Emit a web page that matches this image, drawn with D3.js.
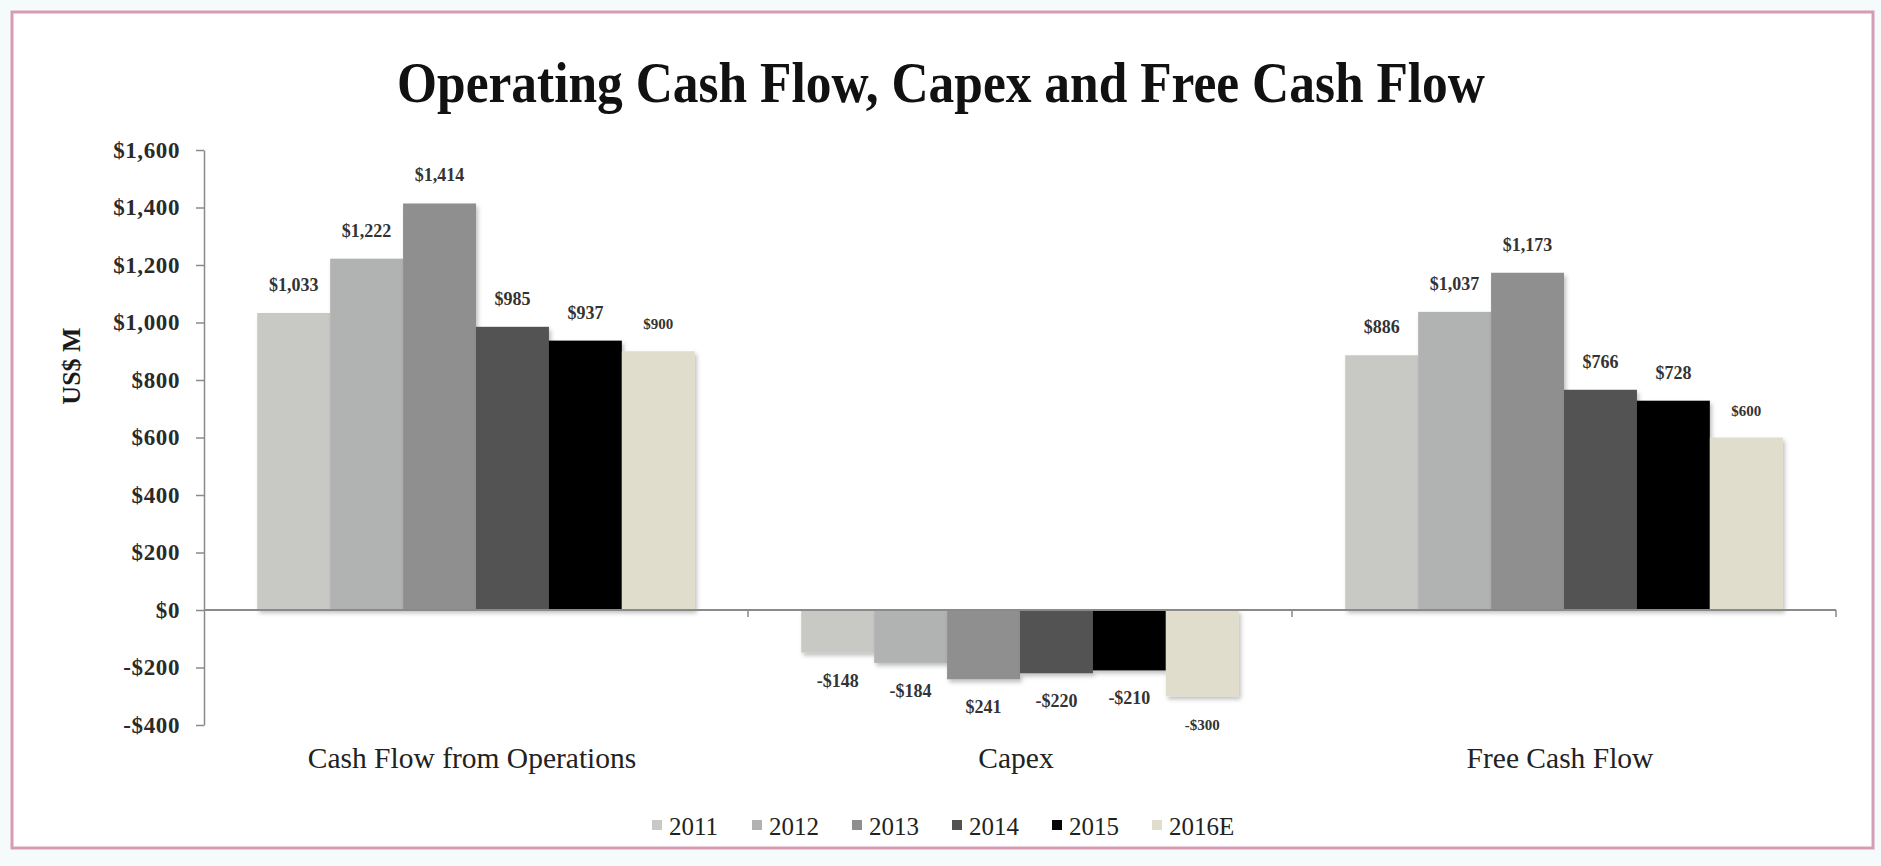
<!DOCTYPE html>
<html>
<head>
<meta charset="utf-8">
<script src="https://cdn.jsdelivr.net/npm/d3@7"></script>
<style>
  html, body { margin: 0; padding: 0; background: #f5fbfb; }
  svg { display: block; }
  text { font-family: "Liberation Serif", "Times New Roman", serif; }
</style>
</head>
<body>
<svg id="chart" width="1881" height="866"></svg>
<script>
// Categories, series and axis ticks
const categories = ["Cash Flow from Operations", "Capex", "Free Cash Flow"];
const years = ["2011", "2012", "2013", "2014", "2015", "2016E"];
const cashFlowOps = [1033, 1222, 1414, 985, 937, 900];
const capex = [-148, -184, -241, -220, -210, -300];
const freeCashFlow = [886, 1037, 1173, 766, 728, 600];
const capexLabels = ["-$148", "-$184", "$241", "-$220", "-$210", "-$300"];
const yTicks = [-400, -200, 0, 200, 400, 600, 800, 1000, 1200, 1400, 1600];
const yearColors = ["#c8c8c4", "#b1b3b2", "#8f8f8f", "#525252", "#060606", "#e0ddcc"];

const seriesByCategory = [cashFlowOps, capex, freeCashFlow];

const svg = d3.select("#chart");

// Shadow under the bars
const defs = svg.append("defs");
const f = defs.append("filter").attr("id", "barShadow")
  .attr("x", "-10%").attr("y", "-10%").attr("width", "130%").attr("height", "130%");
f.append("feDropShadow").attr("dx", 2).attr("dy", 3).attr("stdDeviation", 2)
  .attr("flood-color", "#000").attr("flood-opacity", 0.25);

// Framed panel
svg.append("rect")
  .attr("x", 12).attr("y", 12).attr("width", 1861).attr("height", 836)
  .attr("fill", "#ffffff").attr("stroke", "#d79bb6").attr("stroke-width", 3);

// Title
svg.append("text")
  .attr("x", 941).attr("y", 102)
  .attr("text-anchor", "middle")
  .attr("font-size", 57).attr("font-weight", "bold").attr("fill", "#111")
  .attr("textLength", 1088).attr("lengthAdjust", "spacingAndGlyphs")
  .text("Operating Cash Flow, Capex and Free Cash Flow");

// Scales
const plotLeft = 204, plotRight = 1836;
const y = d3.scaleLinear().domain([-400, 1600]).range([725, 150]);
const x0 = d3.scaleBand().domain(categories).range([plotLeft, plotRight]).padding(0);
const x1 = d3.scaleBand().domain(years).range([0, x0.bandwidth()])
  .paddingInner(0).paddingOuter(0.73);
const color = d3.scaleOrdinal().domain(years).range(yearColors);

// Y axis
const yAxis = d3.axisLeft(y)
  .tickValues(yTicks)
  .tickSize(8).tickSizeOuter(0).tickPadding(16)
  .tickFormat(d => (d < 0 ? "-$" : "$") + d3.format(",")(Math.abs(d)));
const gy = svg.append("g").attr("transform", `translate(${plotLeft},0)`).call(yAxis);
gy.select(".domain").attr("stroke", "#8a8a8a").attr("stroke-width", 1.5);
gy.selectAll(".tick line").attr("stroke", "#8a8a8a").attr("stroke-width", 1.5);
gy.selectAll(".tick text")
  .attr("font-family", "Liberation Serif, serif")
  .attr("font-size", 23).attr("font-weight", "bold").attr("fill", "#2a2a2a")
  .attr("letter-spacing", 0.6);

// Y axis title
svg.append("text")
  .attr("transform", `translate(80,366) rotate(-90)`)
  .attr("text-anchor", "middle")
  .attr("font-size", 26).attr("font-weight", "bold").attr("fill", "#1a1a1a")
  .text("US$ M");

// Bars
const groups = svg.append("g").selectAll("g")
  .data(categories.map((c, i) => ({ cat: c, values: seriesByCategory[i], idx: i })))
  .join("g")
  .attr("transform", d => `translate(${x0(d.cat)},0)`);

groups.selectAll("rect")
  .data(d => d.values.map((v, j) => ({ year: years[j], v })))
  .join("rect")
  .attr("x", d => x1(d.year))
  .attr("width", x1.bandwidth())
  .attr("y", d => y(Math.max(0, d.v)))
  .attr("height", d => Math.abs(y(d.v) - y(0)))
  .attr("fill", d => color(d.year))
  .attr("filter", "url(#barShadow)");

// Value labels
const fmtPos = d3.format(",");
groups.selectAll("text.val")
  .data(d => d.values.map((v, j) => ({
    year: years[j], v,
    label: d.idx === 1 ? capexLabels[j] : "$" + fmtPos(v)
  })))
  .join("text")
  .attr("class", "val")
  .attr("x", d => x1(d.year) + x1.bandwidth() / 2)
  .attr("y", d => d.v >= 0 ? y(d.v) - 22 : y(d.v) + 34)
  .attr("text-anchor", "middle")
  .attr("font-size", d => d.year === "2016E" ? 15 : 18)
  .attr("font-weight", "bold")
  .attr("fill", "#333")
  .text(d => d.label);

// X axis line at zero with ticks between categories
const zeroY = y(0);
svg.append("line")
  .attr("x1", plotLeft).attr("x2", plotRight)
  .attr("y1", zeroY).attr("y2", zeroY)
  .attr("stroke", "#8a8a8a").attr("stroke-width", 2);
const boundaries = categories.map(c => x0(c)).concat([plotRight]).slice(1);
svg.append("g").selectAll("line")
  .data(boundaries)
  .join("line")
  .attr("x1", d => d).attr("x2", d => d)
  .attr("y1", zeroY).attr("y2", zeroY + 7)
  .attr("stroke", "#8a8a8a").attr("stroke-width", 1.5);

// Category labels
svg.append("g").selectAll("text")
  .data(categories)
  .join("text")
  .attr("x", d => x0(d) + x0.bandwidth() / 2 - 4)
  .attr("y", 768)
  .attr("text-anchor", "middle")
  .attr("font-size", 29.5).attr("fill", "#222")
  .text(d => d);

// Legend
const legendX0 = 652, legendStep = 100, legendY = 826;
const legend = svg.append("g").selectAll("g")
  .data(years)
  .join("g")
  .attr("transform", (d, i) => `translate(${legendX0 + i * legendStep},${legendY})`);
legend.append("rect")
  .attr("x", 0).attr("y", -6).attr("width", 10).attr("height", 10)
  .attr("fill", d => color(d));
legend.append("text")
  .attr("x", 17).attr("y", 9)
  .attr("font-size", 25).attr("fill", "#222")
  .text(d => d);
</script>
</body>
</html>
